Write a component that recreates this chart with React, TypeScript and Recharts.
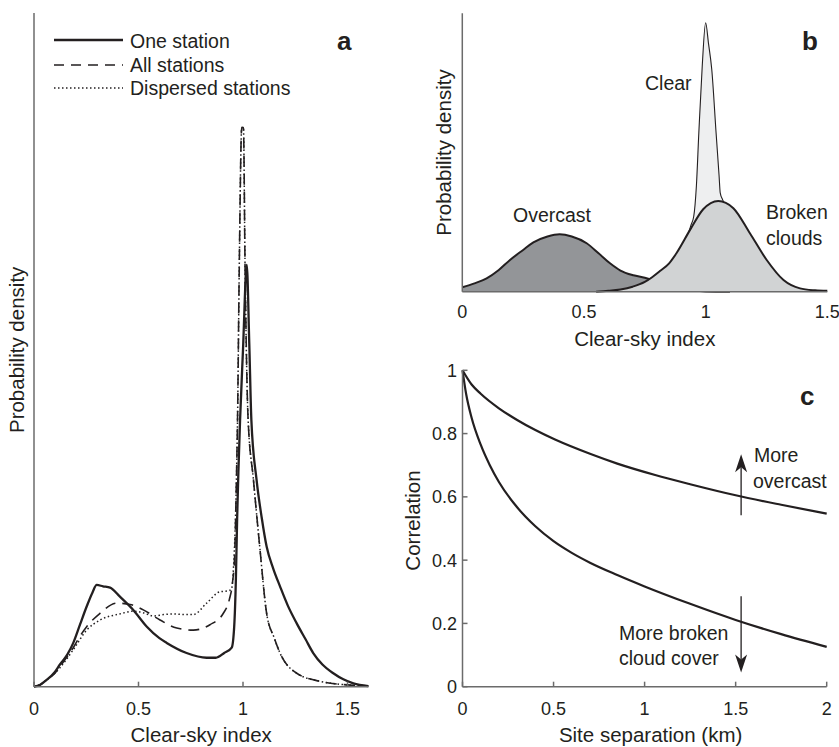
import React from 'react';
import { LineChart, Line, AreaChart, Area, XAxis, YAxis, ReferenceLine } from 'recharts';

type Pt = { x: number; y: number };
const pts = (rows: number[][]): Pt[] => rows.map(([x, y]) => ({ x, y }));

// panel a: clear-sky index densities
const oneStation = pts([
  [0, 0], [0.03, 0.03], [0.06, 0.1], [0.1, 0.22], [0.124, 0.33], [0.16, 0.48], [0.188, 0.65],
  [0.22, 0.92], [0.252, 1.19], [0.28, 1.4], [0.3, 1.51], [0.33, 1.49], [0.364, 1.47], [0.41, 1.34],
  [0.475, 1.14], [0.54, 0.89], [0.6, 0.72], [0.635, 0.65], [0.73, 0.5], [0.826, 0.43], [0.87, 0.43],
  [0.91, 0.5], [0.946, 0.58], [0.958, 0.9], [0.966, 1.6], [0.972, 2.5], [0.978, 3.2], [0.986, 3.96],
  [1.0, 5.0], [1.018, 6.26], [1.03, 5.1], [1.04, 3.96], [1.065, 3.07], [1.09, 2.5], [1.113, 2.08],
  [1.145, 1.75], [1.177, 1.49], [1.215, 1.2], [1.257, 0.94], [1.3, 0.7], [1.336, 0.5], [1.38, 0.33],
  [1.432, 0.2], [1.48, 0.11], [1.528, 0.05], [1.6, 0.01],
]);
const allStations = pts([
  [0, 0], [0.03, 0.03], [0.06, 0.1], [0.1, 0.2], [0.124, 0.3], [0.16, 0.45], [0.188, 0.58],
  [0.22, 0.75], [0.252, 0.89], [0.316, 1.09], [0.396, 1.24], [0.46, 1.22], [0.523, 1.14],
  [0.603, 0.99], [0.683, 0.87], [0.762, 0.84], [0.842, 0.92], [0.906, 1.09], [0.935, 1.3],
  [0.95, 1.55], [0.96, 1.95], [0.968, 3.0], [0.974, 4.0], [0.982, 6.2], [0.994, 8.3], [1.002, 8.3],
  [1.01, 6.2], [1.024, 4.0], [1.05, 3.07], [1.08, 2.08], [1.113, 1.09], [1.15, 0.72], [1.177, 0.5],
  [1.257, 0.2], [1.368, 0.08], [1.45, 0.04], [1.53, 0.02], [1.6, 0.01],
]);
const dispersedStations = pts([
  [0, 0], [0.03, 0.03], [0.06, 0.1], [0.1, 0.2], [0.124, 0.28], [0.188, 0.55], [0.252, 0.84],
  [0.316, 0.99], [0.41, 1.08], [0.475, 1.12], [0.52, 1.1], [0.571, 1.05], [0.62, 1.07], [0.667, 1.08],
  [0.72, 1.07], [0.762, 1.07], [0.826, 1.24], [0.89, 1.41], [0.925, 1.42], [0.945, 1.45], [0.955, 1.8],
  [0.962, 2.3], [0.968, 3.0], [0.974, 4.0], [0.982, 6.2], [0.994, 8.3], [1.002, 8.3], [1.01, 6.2],
  [1.024, 4.0], [1.05, 3.07], [1.08, 2.08], [1.113, 1.09], [1.15, 0.72], [1.177, 0.5], [1.257, 0.2],
  [1.368, 0.08], [1.45, 0.04], [1.53, 0.02], [1.6, 0.01],
]);
const indexTicksA = [0, 0.5, 1, 1.5];

// panel b: schematic distributions
const overcastPdf = pts([
  [0, 0.16], [0.05, 0.3], [0.1, 0.48], [0.15, 0.78], [0.196, 1.14], [0.25, 1.5], [0.292, 1.77],
  [0.35, 1.98], [0.4, 2.06], [0.45, 1.98], [0.511, 1.74], [0.56, 1.38], [0.607, 1.02], [0.65, 0.76],
  [0.703, 0.59], [0.75, 0.5], [0.8, 0.35], [0.85, 0.2], [0.9, 0.1], [0.95, 0.04], [1.0, 0.01], [1.1, 0],
]);
const brokenPdf = pts([
  [0.55, 0], [0.6, 0.03], [0.65, 0.08], [0.7, 0.18], [0.75, 0.35], [0.78, 0.52], [0.812, 0.74],
  [0.85, 1.02], [0.88, 1.38], [0.936, 2.22], [0.99, 2.96], [1.052, 3.26], [1.114, 3.0], [1.182, 2.1],
  [1.251, 1.14], [1.32, 0.42], [1.388, 0.12], [1.45, 0.05], [1.5, 0.03],
]);
const clearPdf = pts([
  [0.85, 0.6], [0.9, 1.3], [0.94, 2.4], [0.951, 2.7], [0.962, 3.8], [0.972, 5.7], [0.986, 8.1],
  [1.0, 9.66], [1.012, 8.9], [1.025, 8.0], [1.043, 5.7], [1.055, 4.2], [1.06, 3.55], [1.07, 3.3],
  [1.1, 2.9], [1.15, 2.3],
]);
const indexTicksB = [0, 0.5, 1, 1.5];

// panel c: correlation vs separation
const overcastCorr = pts([
  [0, 1], [0.05, 0.955], [0.1, 0.926], [0.2, 0.88], [0.3, 0.843], [0.4, 0.811], [0.508, 0.781],
  [0.7, 0.736], [0.85, 0.705], [1.058, 0.669], [1.25, 0.64], [1.5, 0.605], [1.75, 0.575], [2, 0.547],
]);
const brokenCorr = pts([
  [0, 1], [0.02, 0.925], [0.05, 0.85], [0.1, 0.765], [0.15, 0.7], [0.2, 0.647], [0.3, 0.567],
  [0.4, 0.507], [0.5, 0.46], [0.6, 0.423], [0.7, 0.392], [0.85, 0.353], [1.0, 0.317], [1.25, 0.262],
  [1.5, 0.211], [1.75, 0.166], [2, 0.126],
]);
const distTicks = [0, 0.5, 1, 1.5, 2];
const corrTicks = [0, 0.2, 0.4, 0.6, 0.8, 1];
const arrowX = 1.53;
const upArrow = [0.542, 0.735];
const downArrow = [0.286, 0.045];

const ink = '#231f20';
const axisGrey = '#6b6b6b';
const font = '"Liberation Sans", Arial, Helvetica, sans-serif';
const tickStyle = { fontSize: 18, fill: ink };
const labelStyle = { fontSize: 20.5, fill: ink };

function Arrow(p: any) {
  const { x1, y1, x2, y2 } = p;
  const dir = y2 < y1 ? -1 : 1;
  const base = y2 - dir * 18;
  const notch = base + dir * 5;
  return (
    <g>
      <line x1={x1} y1={y1} x2={x2} y2={notch} stroke={ink} strokeWidth={1.3} />
      <path d={`M${x2},${y2} L${x2 - 6},${base} L${x2},${notch} L${x2 + 6},${base} Z`} fill={ink} />
    </g>
  );
}

export default function App() {
  return (
    <div style={{ position: 'absolute', left: 0, top: 0, width: 839, height: 747, background: '#fff', fontFamily: font }}>
      {/* a */}
      <div style={{ position: 'absolute', left: 0, top: 0 }}>
        <LineChart width={380} height={747} margin={{ top: 13, right: 11.6, left: 0, bottom: 0 }}>
          <XAxis
            type="number" dataKey="x" domain={[0, 1.6]} ticks={indexTicksA} height={60.3}
            stroke={axisGrey} strokeWidth={1.5} tickSize={-5} tickMargin={20.5} tick={tickStyle}
            label={{ value: 'Clear-sky index', position: 'insideBottom', offset: 5, ...labelStyle }}
          />
          <YAxis
            type="number" domain={[0, 10]} width={34} tick={false} tickLine={false}
            stroke={axisGrey} strokeWidth={1.5}
            label={{ value: 'Probability density', angle: -90, position: 'center', ...labelStyle }}
          />
          <Line data={dispersedStations} dataKey="y" type="monotone" stroke={ink} strokeWidth={1.5}
            strokeDasharray="1.5 2.5" dot={false} isAnimationActive={false} />
          <Line data={allStations} dataKey="y" type="monotone" stroke={ink} strokeWidth={1.6}
            strokeDasharray="11 7" dot={false} isAnimationActive={false} />
          <Line data={oneStation} dataKey="y" type="monotone" stroke={ink} strokeWidth={2.3}
            dot={false} isAnimationActive={false} />
        </LineChart>
      </div>

      {/* b */}
      <div style={{ position: 'absolute', left: 400, top: 0 }}>
        <AreaChart width={439} height={360} margin={{ top: 13.3, right: 11.7, left: 25.7, bottom: 0 }}>
          <XAxis
            type="number" dataKey="x" domain={[0, 1.5]} ticks={indexTicksB} height={68.3}
            stroke={axisGrey} strokeWidth={1.5} tickLine={false} tickSize={0} tickMargin={13.5} tick={tickStyle}
            label={{ value: 'Clear-sky index', position: 'insideBottom', offset: 14, ...labelStyle }}
          />
          <YAxis
            type="number" domain={[0, 10]} width={36.6} tick={false} tickLine={false}
            stroke={axisGrey} strokeWidth={1.5}
            label={{ value: 'Probability density', angle: -90, position: 'center', ...labelStyle }}
          />
          <Area data={clearPdf} dataKey="y" type="monotone" fill="#eeeff0" fillOpacity={1}
            stroke={ink} strokeWidth={1.1} isAnimationActive={false} />
          <Area data={overcastPdf} dataKey="y" type="monotone" fill="#939598" fillOpacity={1}
            stroke={ink} strokeWidth={2} isAnimationActive={false} />
          <Area data={brokenPdf} dataKey="y" type="monotone" fill="#d1d3d4" fillOpacity={1}
            stroke={ink} strokeWidth={2} isAnimationActive={false} />
        </AreaChart>
      </div>

      {/* c */}
      <div style={{ position: 'absolute', left: 350, top: 360 }}>
        <LineChart width={489} height={387} margin={{ top: 10.3, right: 12.3, left: 12.1, bottom: 0 }}>
          <XAxis
            type="number" dataKey="x" domain={[0, 2]} ticks={distTicks} height={60.3}
            stroke={axisGrey} strokeWidth={1.5} tickSize={-5} tickMargin={20.5} tick={tickStyle}
            label={{ value: 'Site separation (km)', position: 'insideBottom', offset: 5, dx: 6, ...labelStyle }}
          />
          <YAxis
            type="number" domain={[0, 1]} ticks={corrTicks} width={100.4}
            stroke={axisGrey} strokeWidth={1.5} tickSize={-5} tickMargin={10.5} tick={tickStyle}
            label={{ value: 'Correlation', angle: -90, position: 'center', dy: -8, ...labelStyle }}
          />
          <Line data={overcastCorr} dataKey="y" type="monotone" stroke={ink} strokeWidth={2.2}
            dot={false} isAnimationActive={false} />
          <Line data={brokenCorr} dataKey="y" type="monotone" stroke={ink} strokeWidth={2.2}
            dot={false} isAnimationActive={false} />
          <ReferenceLine
            segment={[{ x: arrowX, y: upArrow[0] }, { x: arrowX, y: upArrow[1] }]}
            shape={(p: any) => <Arrow {...p} />}
          />
          <ReferenceLine
            segment={[{ x: arrowX, y: downArrow[0] }, { x: arrowX, y: downArrow[1] }]}
            shape={(p: any) => <Arrow {...p} />}
          />
        </LineChart>
      </div>

      {/* legend, panel letters and notes */}
      <svg width={839} height={747} style={{ position: 'absolute', left: 0, top: 0, pointerEvents: 'none' }}>
        <g fill={ink} fontSize={19.5}>
          <line x1={54} y1={40} x2={123} y2={40} stroke={ink} strokeWidth={2.3} />
          <text x={130} y={48}>One station</text>
          <line x1={54} y1={65} x2={123} y2={65} stroke={ink} strokeWidth={1.6} strokeDasharray="10 7" />
          <text x={130} y={71.5}>All stations</text>
          <line x1={54} y1={88} x2={123} y2={88} stroke={ink} strokeWidth={1.5} strokeDasharray="1.5 2.5" />
          <text x={130} y={95}>Dispersed stations</text>

          <text x={513} y={221.7}>Overcast</text>
          <text x={645} y={90}>Clear</text>
          <text x={766} y={219}>Broken</text>
          <text x={766} y={245}>clouds</text>

          <text x={754} y={462.3}>More</text>
          <text x={753} y={488}>overcast</text>
          <text x={619} y={640}>More broken</text>
          <text x={619} y={665}>cloud cover</text>
        </g>
        <g fill={ink} fontSize={26} fontWeight="bold">
          <text x={337} y={50}>a</text>
          <text x={802} y={50}>b</text>
          <text x={800} y={405}>c</text>
        </g>
      </svg>
    </div>
  );
}
